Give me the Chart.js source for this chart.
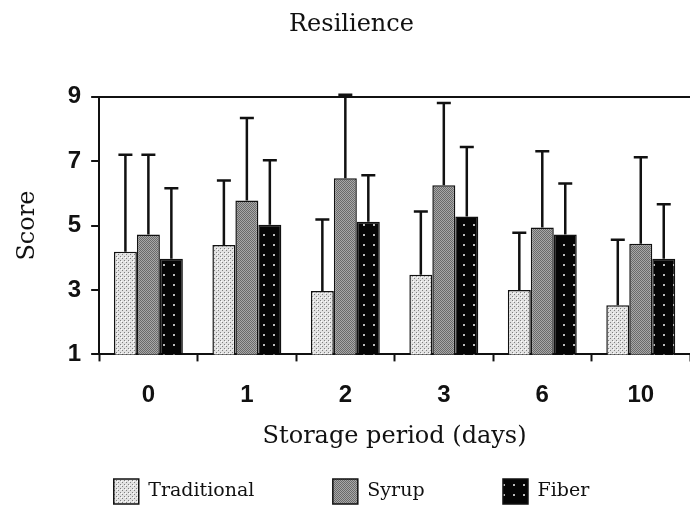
<!DOCTYPE html>
<html>
<head>
<meta charset="utf-8">
<script src="https://cdn.jsdelivr.net/npm/chart.js@4"></script>
<style>
  html, body { margin: 0; padding: 0; background: #fff; }
  #wrap { width: 690px; height: 513px; }
</style>
</head>
<body>
<div id="wrap"><canvas id="myBarChart"></canvas></div>
<script>
const days = ['0', '1', '2', '3', '6', '10'];
const yTicks = [1, 3, 5, 7, 9];
const seriesNames = ['Traditional', 'Syrup', 'Fiber'];
const traditional = [4.19, 4.40, 2.97, 3.47, 3.00, 2.53];
const syrup = [4.72, 5.78, 6.47, 6.25, 4.94, 4.44];
const fiber = [3.97, 5.03, 5.12, 5.28, 4.72, 3.97];
// standard deviations (upper whisker only)
const traditionalSd = [3.01, 2.00, 2.22, 1.97, 1.78, 2.03];
const syrupSd = [2.48, 2.56, 2.59, 2.56, 2.37, 2.68];
const fiberSd = [2.19, 2.00, 1.44, 2.16, 1.59, 1.69];

const serif = "'DejaVu Serif', 'Liberation Serif', serif";
const sans = "'Liberation Sans', Arial, sans-serif";

// little canvas tiles for the hatch fills
function makePattern(size, paint) {
    const c = document.createElement('canvas');
    c.width = size;
    c.height = size;
    const g = c.getContext('2d');
    paint(g);
    return document.createElement('canvas').getContext('2d').createPattern(c, 'repeat');
}
const tradFill = makePattern(4, g => {
    g.fillStyle = '#e2e2e2';
    g.fillRect(0, 0, 4, 4);
    g.fillStyle = '#808080';
    g.fillRect(0, 0, 1, 1);
    g.fillRect(2, 2, 1, 1);
    g.fillStyle = '#ffffff';
    g.fillRect(1, 1, 1, 1);
});
const syrupFill = makePattern(2, g => {
    g.fillStyle = '#a8a8a8';
    g.fillRect(0, 0, 2, 2);
    g.fillStyle = '#6a6a6a';
    g.fillRect(0, 0, 1, 1);
    g.fillRect(1, 1, 1, 1);
});
const fiberFill = makePattern(10, g => {
    g.fillStyle = '#050505';
    g.fillRect(0, 0, 10, 10);
    g.fillStyle = '#bbbbbb';
    g.fillRect(3, 4, 2, 2);
});

const sds = [traditionalSd, syrupSd, fiberSd];

const errorBars = {
    id: 'errorBars',
    afterDatasetsDraw(chart) {
        const ctx = chart.ctx;
        const yScale = chart.scales.y;
        ctx.save();
        ctx.strokeStyle = '#111';
        ctx.lineWidth = 2.5;
        chart.data.datasets.forEach((ds, i) => {
            const meta = chart.getDatasetMeta(i);
            meta.data.forEach((bar, j) => {
                const top = yScale.getPixelForValue(ds.data[j] + sds[i][j]);
                ctx.beginPath();
                ctx.moveTo(bar.x, bar.y);
                ctx.lineTo(bar.x, top);
                ctx.moveTo(bar.x - 7, top);
                ctx.lineTo(bar.x + 7, top);
                ctx.stroke();
            });
        });
        ctx.restore();
    }
};

const whiteBg = {
    id: 'whiteBg',
    beforeDraw(chart) {
        const ctx = chart.ctx;
        ctx.save();
        ctx.fillStyle = '#fff';
        ctx.fillRect(0, 0, chart.width, chart.height);
        ctx.restore();
    }
};

// wide gaps between legend entries without inflating the legend's height
const gap = '\u00a0'.repeat(11);

const bar = document.getElementById('myBarChart');
const myChart = new Chart(bar, {
    type: 'bar',
    data: {
        labels: days,
        datasets: [
            { label: seriesNames[0], data: traditional, backgroundColor: tradFill },
            { label: seriesNames[1], data: syrup, backgroundColor: syrupFill },
            { label: seriesNames[2], data: fiber, backgroundColor: fiberFill }
        ].map(d => Object.assign(d, {
            borderColor: '#111',
            borderWidth: 1.5,
            borderSkipped: 'bottom',
            categoryPercentage: 0.7,
            barPercentage: 1.0
        }))
    },
    options: {
        responsive: true,
        maintainAspectRatio: false,
        animation: false,
        layout: { padding: { left: 13, right: 0, top: 10, bottom: -1 } },
        plugins: {
            title: {
                display: true,
                text: 'Resilience',
                color: '#111',
                font: { family: serif, size: 24, weight: 'normal' },
                padding: { top: 0, bottom: 58 }
            },
            legend: {
                display: true,
                position: 'bottom',
                labels: {
                    color: '#111',
                    font: { family: serif, size: 19 },
                    boxWidth: 25,
                    boxHeight: 25,
                    padding: 12,
                    generateLabels(chart) {
                        const items = Chart.defaults.plugins.legend.labels.generateLabels(chart);
                        items.forEach((it, i) => {
                            it.lineWidth = 1.5;
                            it.strokeStyle = '#111';
                            if (i < items.length - 1) it.text = it.text + gap;
                        });
                        return items;
                    }
                }
            },
            tooltip: { enabled: false }
        },
        scales: {
            x: {
                grid: {
                    display: true,
                    drawOnChartArea: false,
                    tickLength: 7,
                    tickColor: '#111',
                    tickWidth: 2
                },
                border: { color: '#111', width: 2 },
                ticks: {
                    color: '#111',
                    font: { family: sans, size: 24, weight: 'bold' },
                    padding: 20
                },
                title: {
                    display: true,
                    text: 'Storage period (days)',
                    color: '#111',
                    font: { family: serif, size: 24 },
                    padding: { top: -8, bottom: 16 }
                }
            },
            y: {
                min: 1,
                max: 9,
                afterBuildTicks(scale) {
                    scale.ticks = yTicks.map(v => ({ value: v }));
                },
                grid: {
                    color: c => (c.tick && c.tick.value === 9 ? '#111' : 'rgba(0,0,0,0)'),
                    lineWidth: 2,
                    tickLength: 8,
                    tickColor: '#111',
                    tickWidth: 2
                },
                border: { color: '#111', width: 2 },
                ticks: {
                    color: '#111',
                    font: { family: sans, size: 24, weight: 'bold' },
                    padding: 10
                },
                title: {
                    display: true,
                    text: 'Score',
                    color: '#111',
                    font: { family: serif, size: 24 },
                    padding: { top: 0, bottom: 16 }
                }
            }
        }
    },
    plugins: [whiteBg, errorBars]
});
</script>
</body>
</html>
